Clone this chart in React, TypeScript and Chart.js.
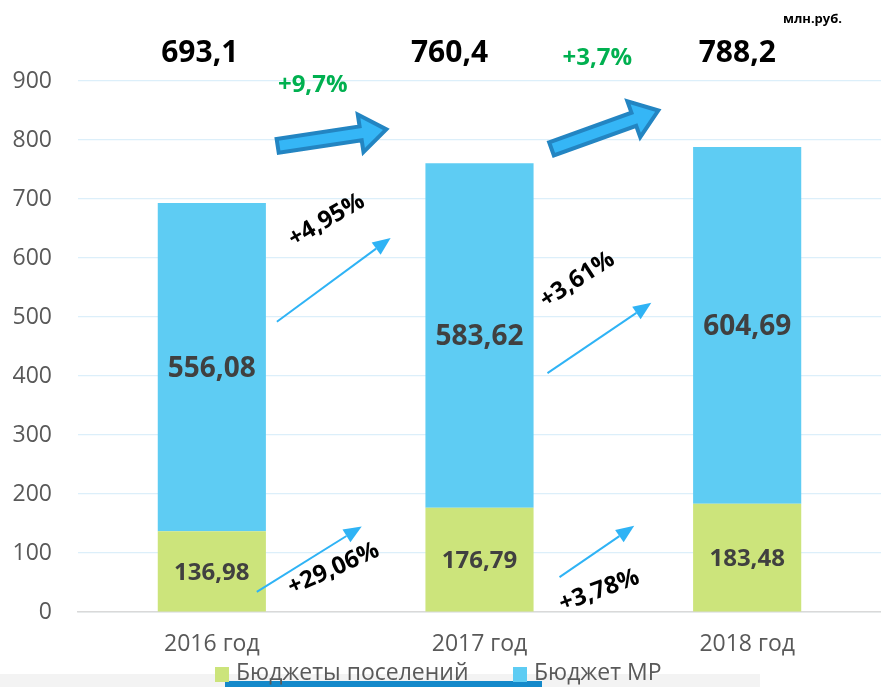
import React, { useEffect, useRef } from 'react';
import { Chart, registerables } from 'chart.js';

Chart.register(...registerables);

// ---- data ----
const categories = ['2016 год', '2017 год', '2018 год'];
const seriesNames = ['Бюджеты поселений', 'Бюджет МР'];
const settlementBudgets = [136.98, 176.79, 183.48];
const districtBudget = [556.08, 583.62, 604.69];
const totalLabels = ['693,1', '760,4', '788,2'];
const totalGrowth = ['+9,7%', '+3,7%'];
const districtGrowth = ['+4,95%', '+3,61%'];
const settlementGrowth = ['+29,06%', '+3,78%'];
const unitLabel = 'млн.руб.';
const yMax = 900;
const yStep = 100;

// ---- styles ----
const GREEN = '#CCE47B';
const BLUE = '#5ECCF3';
const TICK = '#595959';
const FONT = "'Open Sans', 'Noto Sans', sans-serif";

// layout of decorations (category fraction, value)
const totalPos = [
  [-0.045, 946],
  [0.888, 946],
  [1.963, 946],
];
const thickArrows = [
  { from: [0.246, 790], to: [0.652, 818] },
  { from: [1.269, 785], to: [1.668, 850] },
];
const totalGrowthPos = [
  [0.377, 893],
  [1.44, 939],
];
const districtArrows = [
  { from: [0.243, 492], to: [0.668, 634], label: [0.429, 664], rot: -30 },
  { from: [1.254, 405], to: [1.642, 524], label: [1.366, 563], rot: -33 },
];
const settlementArrows = [
  { from: [0.168, 34], to: [0.56, 145], label: [0.455, 73], rot: -24 },
  { from: [1.299, 59], to: [1.578, 146], label: [1.448, 36], rot: -20 },
];

const fmt = (v: number) => v.toFixed(2).replace('.', ',');

function drawThinArrow(ctx: CanvasRenderingContext2D, x1: number, y1: number, x2: number, y2: number) {
  const ang = Math.atan2(y2 - y1, x2 - x1);
  const hl = 18;
  const hw = 7.5;
  const bx = x2 - hl * Math.cos(ang);
  const by = y2 - hl * Math.sin(ang);
  ctx.save();
  ctx.strokeStyle = '#2FB3F5';
  ctx.fillStyle = '#2FB3F5';
  ctx.lineWidth = 2;
  ctx.beginPath();
  ctx.moveTo(x1, y1);
  ctx.lineTo(bx, by);
  ctx.stroke();
  ctx.beginPath();
  ctx.moveTo(x2, y2);
  ctx.lineTo(bx + hw * Math.sin(ang), by - hw * Math.cos(ang));
  ctx.lineTo(bx - hw * Math.sin(ang), by + hw * Math.cos(ang));
  ctx.closePath();
  ctx.fill();
  ctx.restore();
}

function drawBlockArrow(ctx: CanvasRenderingContext2D, x1: number, y1: number, x2: number, y2: number) {
  const ang = Math.atan2(y2 - y1, x2 - x1);
  const len = Math.hypot(x2 - x1, y2 - y1);
  const sw = 7;
  const hw = 19;
  const hl = 26;
  ctx.save();
  ctx.translate(x1, y1);
  ctx.rotate(ang);
  ctx.beginPath();
  ctx.moveTo(0, -sw);
  ctx.lineTo(len - hl, -sw);
  ctx.lineTo(len - hl, -hw);
  ctx.lineTo(len, 0);
  ctx.lineTo(len - hl, hw);
  ctx.lineTo(len - hl, sw);
  ctx.lineTo(0, sw);
  ctx.closePath();
  ctx.fillStyle = '#35B6F6';
  ctx.fill();
  ctx.lineWidth = 4;
  ctx.lineJoin = 'miter';
  ctx.strokeStyle = '#2385C2';
  ctx.stroke();
  ctx.restore();
}

const decorPlugin = {
  id: 'decor',
  beforeDraw(chart: any) {
    const ctx = chart.ctx as CanvasRenderingContext2D;
    ctx.save();
    ctx.fillStyle = '#F3F3F3';
    ctx.fillRect(0, 674, 760, 13);
    ctx.fillStyle = '#1489CA';
    ctx.fillRect(225, 681, 317, 6);
    ctx.restore();
  },
  afterDatasetsDraw(chart: any) {
    const ctx = chart.ctx as CanvasRenderingContext2D;
    ctx.save();
    ctx.textAlign = 'center';
    ctx.textBaseline = 'middle';
    ctx.fillStyle = '#404040';
    chart.data.datasets.forEach((ds: any, di: number) => {
      const meta = chart.getDatasetMeta(di);
      meta.data.forEach((bar: any, i: number) => {
        const { x, y, base } = bar.getProps(['x', 'y', 'base'], true);
        ctx.font = `bold ${di === 0 ? 24 : 28}px ${FONT}`;
        ctx.fillText(fmt(ds.data[i]), x, (y + base) / 2 + 2);
      });
    });
    ctx.restore();
  },
  afterDraw(chart: any) {
    const ctx = chart.ctx as CanvasRenderingContext2D;
    const xs = chart.scales.x;
    const ys = chart.scales.y;
    const P = (p: number[]) => [xs.getPixelForValue(p[0]), ys.getPixelForValue(p[1])];

    ctx.save();
    // unit label
    ctx.font = `bold 13px ${FONT}`;
    ctx.fillStyle = '#000';
    ctx.textAlign = 'right';
    ctx.textBaseline = 'middle';
    ctx.fillText(unitLabel, 842, 19);

    // totals
    ctx.textAlign = 'center';
    ctx.font = `bold 30px ${FONT}`;
    totalLabels.forEach((t, i) => {
      const [x, y] = P(totalPos[i]);
      ctx.fillText(t, x, y);
    });

    // total growth
    ctx.font = `bold 24px ${FONT}`;
    ctx.fillStyle = '#00B050';
    totalGrowth.forEach((t, i) => {
      const [x, y] = P(totalGrowthPos[i]);
      ctx.fillText(t, x, y);
    });

    // block arrows
    thickArrows.forEach((a) => {
      const [x1, y1] = P(a.from);
      const [x2, y2] = P(a.to);
      drawBlockArrow(ctx, x1, y1, x2, y2);
    });

    // thin arrows + labels
    const thin = (arr: any[], labels: string[]) => {
      arr.forEach((a, i) => {
        const [x1, y1] = P(a.from);
        const [x2, y2] = P(a.to);
        drawThinArrow(ctx, x1, y1, x2, y2);
        const [lx, ly] = P(a.label);
        ctx.save();
        ctx.translate(lx, ly);
        ctx.rotate((a.rot * Math.PI) / 180);
        ctx.font = `bold 24px ${FONT}`;
        ctx.fillStyle = '#000';
        ctx.textAlign = 'center';
        ctx.textBaseline = 'middle';
        ctx.fillText(labels[i], 0, 0);
        ctx.restore();
      });
    };
    thin(districtArrows, districtGrowth);
    thin(settlementArrows, settlementGrowth);

    // legend
    const colors = [GREEN, BLUE];
    const legendX = [215, 513];
    ctx.font = `23px ${FONT}`;
    ctx.textAlign = 'left';
    ctx.textBaseline = 'middle';
    seriesNames.forEach((n, i) => {
      ctx.fillStyle = colors[i];
      ctx.fillRect(legendX[i], 667, 14, 15);
      ctx.fillStyle = TICK;
      ctx.fillText(n, legendX[i] + 21, 673);
    });
    ctx.restore();
  },
};

export default function App() {
  const ref = useRef<HTMLCanvasElement | null>(null);

  useEffect(() => {
    document.body.style.margin = '0';
    const canvas = ref.current;
    if (!canvas) return;
    const chart = new Chart(canvas, {
      type: 'bar',
      data: {
        labels: categories,
        datasets: [
          {
            label: seriesNames[0],
            data: settlementBudgets,
            backgroundColor: GREEN,
            categoryPercentage: 0.8,
            barPercentage: 0.505,
          },
          {
            label: seriesNames[1],
            data: districtBudget,
            backgroundColor: BLUE,
            categoryPercentage: 0.8,
            barPercentage: 0.505,
          },
        ],
      },
      options: {
        responsive: false,
        animation: false,
        layout: { padding: { top: 81, right: 0, bottom: 0, left: 0 } },
        plugins: {
          legend: { display: false },
          tooltip: { enabled: false },
          title: { display: false },
        },
        scales: {
          x: {
            stacked: true,
            grid: { display: false, drawTicks: false },
            border: { display: true, color: '#D9D9D9', width: 1.5 },
            ticks: {
              color: TICK,
              font: { family: FONT, size: 23 },
              padding: 19,
            },
            afterFit: (s: any) => {
              s.height = 75;
            },
          },
          y: {
            stacked: true,
            min: 0,
            max: yMax,
            ticks: {
              stepSize: yStep,
              color: TICK,
              font: { family: FONT, size: 23 },
              padding: 26,
            },
            grid: { color: '#DCEFFA', lineWidth: 1.2, drawTicks: false },
            border: { display: false },
            afterFit: (s: any) => {
              s.width = 78;
            },
          },
        },
      },
      plugins: [decorPlugin],
    });
    return () => chart.destroy();
  }, []);

  return (
    <div style={{ width: 881, height: 687, background: '#fff' }}>
      <canvas ref={ref} width={881} height={687} style={{ display: 'block' }} />
    </div>
  );
}
